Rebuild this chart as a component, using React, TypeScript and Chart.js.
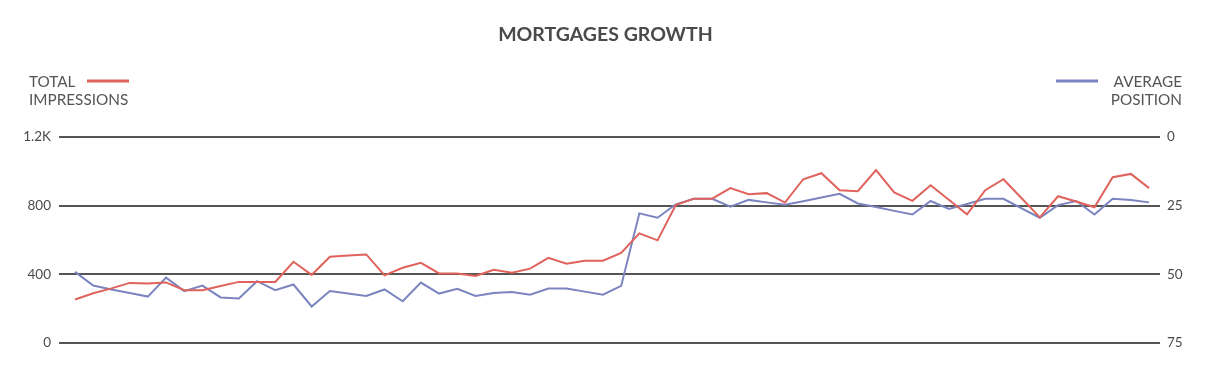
import React, { useEffect, useRef } from "react";
import { Chart, registerables } from "chart.js";

Chart.register(...registerables);

const chartTitle = "MORTGAGES GROWTH";
const leftLegendLines = ["TOTAL", "IMPRESSIONS"];
const rightLegendLines = ["AVERAGE", "POSITION"];

const impressions = [
  253, 290, 318, 350, 347, 353, 308, 308, 332, 356,
  356, 356, 473, 397, 502, 509, 516, 394, 438, 467,
  405, 405, 391, 426, 409, 433, 496, 462, 479, 479,
  525, 639, 598, 804, 841, 841, 902, 867, 873, 818,
  954, 989, 890, 884, 1007, 877, 828, 919, 834, 750,
  890, 954, 843, 732, 855, 824, 791, 966, 985, 902,
];

const avgPosition = [
  49.1, 54.1, 55.5, 56.8, 58.1, 51.2, 56.1, 54.1, 58.4, 58.8,
  52.5, 55.8, 53.7, 61.7, 56.1, 57.0, 57.9, 55.5, 59.8, 53.0,
  57.0, 55.3, 57.9, 56.8, 56.4, 57.4, 55.2, 55.2, 56.3, 57.4,
  54.2, 27.8, 29.4, 24.5, 22.5, 22.5, 25.4, 22.9, 23.8, 24.7,
  23.4, 22.0, 20.7, 24.2, 25.5, 26.9, 28.2, 23.3, 26.2, 24.4,
  22.5, 22.5, 26.0, 29.4, 24.8, 23.3, 28.2, 22.5, 22.9, 23.8,
];

const leftTicks = [0, 400, 800, 1200];
const rightTicks = [0, 25, 50, 75];

const RED = "#e0625c";
const BLUE = "#7b84bf";
const TEXT = "#4a4a4a";
const GRID = "#555555";
const FONT = "Lato, 'Open Sans', sans-serif";

const W = 1211;
const H = 386;

const overlayPlugin = {
  id: "overlay",
  afterDraw(chart: any) {
    const ctx = chart.ctx as CanvasRenderingContext2D;
    ctx.save();
    // title
    ctx.fillStyle = TEXT;
    ctx.font = `bold 19.5px ${FONT}`;
    ctx.textAlign = "center";
    ctx.textBaseline = "middle";
    ctx.fillText(chartTitle, 605.5, 34.5);

    // left legend
    ctx.font = `15.3px ${FONT}`;
    ctx.textAlign = "left";
    ctx.fillStyle = "#555555";
    ctx.fillText(leftLegendLines[0], 29, 82);
    ctx.fillText(leftLegendLines[1], 29, 100.5);
    ctx.strokeStyle = chart.data.datasets[0].borderColor;
    ctx.lineWidth = 3;
    ctx.beginPath();
    ctx.moveTo(87, 81);
    ctx.lineTo(129, 81);
    ctx.stroke();

    // right legend
    ctx.textAlign = "right";
    ctx.fillText(rightLegendLines[0], 1182, 82);
    ctx.fillText(rightLegendLines[1], 1182, 100.5);
    ctx.strokeStyle = chart.data.datasets[1].borderColor;
    ctx.beginPath();
    ctx.moveTo(1056, 81);
    ctx.lineTo(1098, 81);
    ctx.stroke();
    ctx.restore();
  },
};

export default function App() {
  const ref = useRef<HTMLCanvasElement | null>(null);

  useEffect(() => {
    if (!ref.current) return;
    const chart = new Chart(ref.current, {
      type: "line",
      data: {
        datasets: [
          {
            label: leftLegendLines.join(" "),
            data: impressions.map((v, i) => ({ x: i, y: v })),
            borderColor: RED,
            borderWidth: 2,
            pointRadius: 0,
            tension: 0,
            yAxisID: "y",
          },
          {
            label: rightLegendLines.join(" "),
            data: avgPosition.map((v, i) => ({ x: i, y: v })),
            borderColor: BLUE,
            borderWidth: 2,
            pointRadius: 0,
            tension: 0,
            yAxisID: "y1",
          },
        ],
      },
      options: {
        responsive: false,
        animation: false,
        devicePixelRatio: 1,
        layout: { padding: { top: 137, bottom: 43, left: 0, right: 0 } },
        plugins: {
          legend: { display: false },
          title: { display: false },
          tooltip: { enabled: false },
        },
        scales: {
          x: {
            type: "linear",
            min: -0.88,
            max: 59.6,
            display: false,
          },
          y: {
            position: "left",
            min: 0,
            max: 1200,
            afterBuildTicks: (scale: any) => {
              scale.ticks = leftTicks.map((v) => ({ value: v }));
            },
            afterFit: (scale: any) => {
              scale.width = 59;
            },
            border: { display: false },
            grid: { color: GRID, lineWidth: 2, drawTicks: false },
            ticks: {
              padding: 8,
              color: TEXT,
              font: { family: FONT, size: 13.5 },
              callback: (v: any) => (v >= 1000 ? `${v / 1000}K` : `${v}`),
            },
          },
          y1: {
            position: "right",
            reverse: true,
            min: 0,
            max: 75,
            afterBuildTicks: (scale: any) => {
              scale.ticks = rightTicks.map((v) => ({ value: v }));
            },
            afterFit: (scale: any) => {
              scale.width = 51;
            },
            border: { display: false },
            grid: { display: false, drawTicks: false },
            ticks: {
              padding: 7,
              color: TEXT,
              font: { family: FONT, size: 13.5 },
            },
          },
        },
      },
      plugins: [overlayPlugin],
    });
    return () => chart.destroy();
  }, []);

  return (
    <div style={{ position: "fixed", left: 0, top: 0, width: W, height: H, background: "#fff" }}>
      <canvas ref={ref} width={W} height={H} style={{ width: W, height: H, display: "block" }} />
    </div>
  );
}
